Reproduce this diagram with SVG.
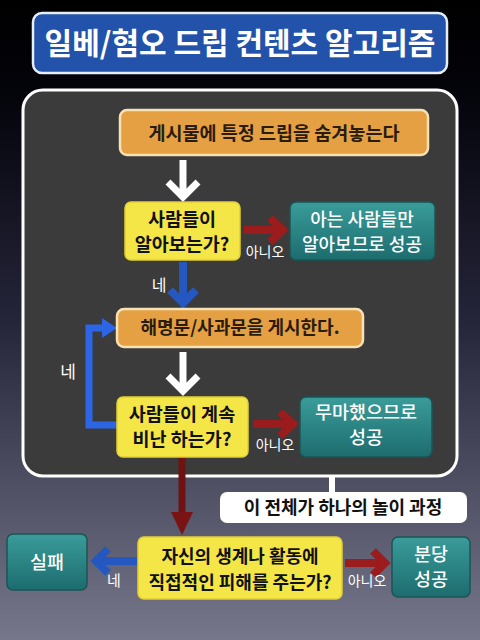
<svg xmlns="http://www.w3.org/2000/svg" width="480" height="640" viewBox="0 0 480 640">
<defs>
<linearGradient id="bg" x1="0" y1="0" x2="0" y2="1">
<stop offset="0" stop-color="#000000"/>
<stop offset="0.14" stop-color="#03030a"/>
<stop offset="0.5" stop-color="#25253a"/>
<stop offset="1" stop-color="#77778c"/>
</linearGradient>
<linearGradient id="teal" x1="0" y1="0" x2="0" y2="1">
<stop offset="0" stop-color="#3a9c9a"/>
<stop offset="1" stop-color="#1d6c6e"/>
</linearGradient>
</defs>
<style>
text{font-family:"Noto Sans CJK KR","Noto Sans",sans-serif;font-weight:bold;text-anchor:middle}
.dark{fill:#2a1c0c}
.blk{fill:#111111}
.wh{fill:#ffffff}
.t18{font-size:18px}
.t19{font-size:18.5px}
.t14{font-size:14px;font-weight:normal}
.orange{fill:#e5a044;stroke:#f7e2b5;stroke-width:2.5}
.yellow{fill:#f4e647;stroke:#e2d035;stroke-width:1.5}
.tealbox{fill:url(#teal);stroke:#1a5556;stroke-width:1.5}
.warrow{fill:none;stroke:#ffffff;stroke-width:7}
.red{fill:none;stroke:#9a1c1c;stroke-width:8}
.blue{fill:none;stroke:#2458c0;stroke-width:8}
</style>
<rect x="0" y="0" width="480" height="640" fill="url(#bg)"/>

<g id="title">
<rect x="33" y="13" width="414" height="60" rx="9" fill="#2252aa" stroke="#e8eef8" stroke-width="2.5"/>
<text x="240" y="54" class="wh" style="font-size:30px">일베/혐오 드립 컨텐츠 알고리즘</text>
</g>

<g id="panel">
<rect x="23" y="90" width="434" height="386" rx="20" fill="#3b3b3b" stroke="#ffffff" stroke-width="3"/>
</g>

<g id="connectors">
<line x1="183" y1="160" x2="183" y2="196" class="warrow"/>
<polyline points="168,182 183,197 198,182" class="warrow"/>
<line x1="244" y1="230" x2="282" y2="230" class="red"/>
<polyline points="270,218 283,230 270,242" class="red"/>
<line x1="183" y1="262" x2="183" y2="302" class="blue"/>
<polyline points="170,290 183,303 196,290" class="blue"/>
<line x1="183" y1="352" x2="183" y2="390" class="warrow"/>
<polyline points="168,376 183,391 198,376" class="warrow"/>
<polyline points="117,425 89,425 89,328 104,328" fill="none" stroke="#2c66e6" stroke-width="7"/>
<polygon points="102,318 117,328 102,338" fill="#2c66e6"/>
<line x1="253" y1="424" x2="291" y2="424" class="red"/>
<polyline points="280,412 293,424 280,436" class="red"/>
<line x1="182" y1="458" x2="182" y2="514" stroke="#6e1212" stroke-width="7"/>
<polygon points="171,512 193,512 182,535" fill="#7a1414"/>
<line x1="332" y1="477" x2="332" y2="493" stroke="#ffffff" stroke-width="6"/>
<line x1="137" y1="561" x2="98" y2="561" class="blue"/>
<polyline points="108,549 96,561 108,573" class="blue"/>
<line x1="345" y1="563" x2="382" y2="563" class="red"/>
<polyline points="373,551 385,563 373,575" class="red"/>
</g>

<g id="labels">
<text x="265" y="257" class="wh t14">아니오</text>
<text x="159" y="291" class="wh" style="font-size:16px;font-weight:normal">네</text>
<text x="68" y="378" class="wh" style="font-size:17px;font-weight:normal">네</text>
<text x="275" y="450" class="wh t14">아니오</text>
<text x="114" y="586" class="wh" style="font-size:15px;font-weight:normal">네</text>
<text x="367" y="586" class="wh t14">아니오</text>
</g>

<g id="n1">
<rect x="120" y="110" width="308" height="45" rx="7" class="orange"/>
<text x="274" y="140" class="dark" style="font-size:18.5px">게시물에 특정 드립을 숨겨놓는다</text>
</g>

<g id="n2">
<rect x="125" y="202" width="115" height="58" rx="6" class="yellow"/>
<text x="182" y="226" class="blk t19">사람들이</text>
<text x="182" y="251" class="blk t19">알아보는가?</text>
</g>

<g id="n3">
<rect x="290" y="202" width="145" height="58" rx="6" class="tealbox"/>
<text x="362" y="226" class="wh t18" style="font-weight:500">아는 사람들만</text>
<text x="362" y="251" class="wh t18" style="font-weight:500">알아보므로 성공</text>
</g>

<g id="n4">
<rect x="117" y="309" width="246" height="38" rx="7" class="orange"/>
<text x="240" y="334" class="dark t18">해명문/사과문을 게시한다.</text>
</g>

<g id="n5">
<rect x="117" y="397" width="131" height="60" rx="6" class="yellow"/>
<text x="182" y="421" class="blk t19">사람들이 계속</text>
<text x="182" y="446" class="blk t19">비난 하는가?</text>
</g>

<g id="n6">
<rect x="300" y="397" width="132" height="60" rx="6" class="tealbox"/>
<text x="366" y="419" class="wh t19" style="font-weight:500">무마했으므로</text>
<text x="366" y="444" class="wh t19" style="font-weight:500">성공</text>
</g>

<g id="note">
<rect x="220" y="492" width="247" height="31" rx="7" fill="#ffffff"/>
<text x="343" y="514" class="blk t18">이 전체가 하나의 놀이 과정</text>
</g>

<g id="n7">
<rect x="138" y="537" width="204" height="62" rx="6" class="yellow"/>
<text x="240" y="563" class="blk t18">자신의 생계나 활동에</text>
<text x="240" y="589" class="blk t18">직접적인 피해를 주는가?</text>
</g>

<g id="n8">
<rect x="7" y="534" width="80" height="56" rx="6" class="tealbox"/>
<text x="47" y="569" class="wh t19" style="font-weight:500">실패</text>
</g>

<g id="n9">
<rect x="392" y="537" width="78" height="60" rx="6" class="tealbox"/>
<text x="431" y="561" class="wh t19" style="font-weight:500">분당</text>
<text x="431" y="586" class="wh t19" style="font-weight:500">성공</text>
</g>
</svg>
